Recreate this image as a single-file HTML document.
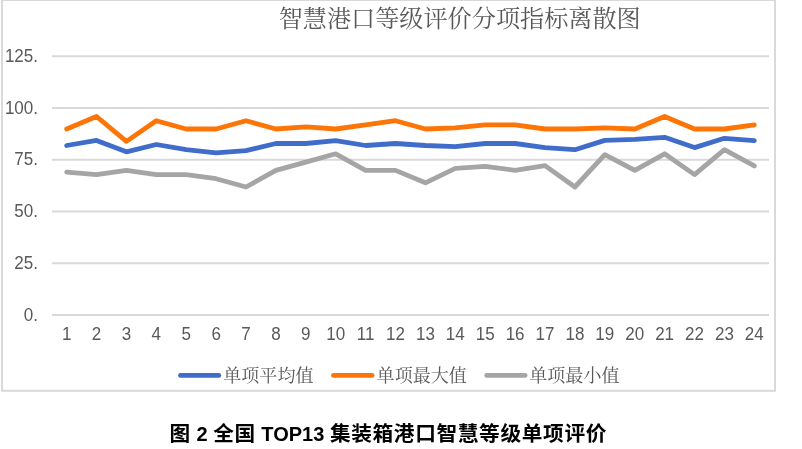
<!DOCTYPE html>
<html lang="zh-CN"><head><meta charset="utf-8"><title>智慧港口等级评价分项指标离散图</title>
<style>
html,body{margin:0;padding:0;background:#fff;}
body{width:802px;height:449px;overflow:hidden;position:relative;}
svg{position:absolute;left:0;top:0;display:block;}
.ax{font-family:"Liberation Sans","Noto Sans CJK SC",sans-serif;font-size:18px;fill:#595959;}
.ttl{font-family:"Liberation Serif","Noto Serif CJK SC",serif;font-size:24.15px;fill:#595959;}
.lg{font-family:"Liberation Serif","Noto Serif CJK SC",serif;font-size:18.05px;fill:#595959;}
.cap{font-family:"Liberation Sans","Noto Sans CJK SC",sans-serif;font-size:20px;font-weight:bold;fill:#000;}
.cap .cj{font-size:20.7px;letter-spacing:0.63px;}
</style></head><body>
<svg width="802" height="449" viewBox="0 0 802 449">
<rect x="0" y="0" width="802" height="449" fill="#fff"/>
<rect x="2" y="0" width="773" height="390.8" fill="#fff" stroke="#d9d9d9" stroke-width="2"/>
<g stroke="#d9d9d9" stroke-width="2"><line x1="52" y1="56.2" x2="769" y2="56.2"/><line x1="52" y1="108.0" x2="769" y2="108.0"/><line x1="52" y1="159.8" x2="769" y2="159.8"/><line x1="52" y1="211.5" x2="769" y2="211.5"/><line x1="52" y1="263.3" x2="769" y2="263.3"/><line x1="52" y1="315.1" x2="769" y2="315.1"/></g>
<g fill="none" stroke-width="4.8" stroke-linecap="round" stroke-linejoin="round">
<polyline stroke="#a5a5a5" points="66.7,172.1 96.5,174.6 126.4,170.4 156.3,174.6 186.2,174.6 216.1,178.7 246.0,187.0 275.9,170.4 305.8,162.1 335.7,153.8 365.6,170.4 395.5,170.4 425.4,182.8 455.3,168.3 485.2,166.3 515.1,170.4 545.0,165.6 574.9,187.0 604.8,154.7 634.8,170.4 664.6,153.8 694.5,174.6 724.4,149.7 754.3,165.9"/>
<polyline stroke="#fd7506" points="66.7,129.0 96.5,116.5 126.4,141.4 156.3,120.7 186.2,129.0 216.1,129.0 246.0,120.7 275.9,129.0 305.8,126.9 335.7,129.0 365.6,124.8 395.5,120.7 425.4,129.0 455.3,127.9 485.2,124.8 515.1,124.8 545.0,129.0 574.9,129.0 604.8,127.9 634.8,129.0 664.6,116.5 694.5,129.0 724.4,129.0 754.3,124.8"/>
<polyline stroke="#406cca" points="66.7,145.5 96.5,140.4 126.4,151.8 156.3,144.5 186.2,149.7 216.1,152.8 246.0,150.7 275.9,143.5 305.8,143.5 335.7,140.6 365.6,145.5 395.5,143.5 425.4,145.5 455.3,146.6 485.2,143.5 515.1,143.5 545.0,147.6 574.9,149.7 604.8,140.4 634.8,139.3 664.6,137.3 694.5,147.6 724.4,138.3 754.3,140.6"/>
</g>
<text class="ttl" x="459.7" y="27" text-anchor="middle">智慧港口等级评价分项指标离散图</text>
<g class="ax"><text transform="translate(38,61.9) scale(0.945,1)" text-anchor="end">125.</text><text transform="translate(38,113.6) scale(0.945,1)" text-anchor="end">100.</text><text transform="translate(38,165.4) scale(0.945,1)" text-anchor="end">75.</text><text transform="translate(38,217.1) scale(0.945,1)" text-anchor="end">50.</text><text transform="translate(38,268.9) scale(0.945,1)" text-anchor="end">25.</text><text transform="translate(38,320.7) scale(0.945,1)" text-anchor="end">0.</text></g>
<g class="ax"><text transform="translate(66.7,340.2) scale(0.945,1)" text-anchor="middle">1</text><text transform="translate(96.5,340.2) scale(0.945,1)" text-anchor="middle">2</text><text transform="translate(126.4,340.2) scale(0.945,1)" text-anchor="middle">3</text><text transform="translate(156.3,340.2) scale(0.945,1)" text-anchor="middle">4</text><text transform="translate(186.2,340.2) scale(0.945,1)" text-anchor="middle">5</text><text transform="translate(216.1,340.2) scale(0.945,1)" text-anchor="middle">6</text><text transform="translate(246.0,340.2) scale(0.945,1)" text-anchor="middle">7</text><text transform="translate(275.9,340.2) scale(0.945,1)" text-anchor="middle">8</text><text transform="translate(305.8,340.2) scale(0.945,1)" text-anchor="middle">9</text><text transform="translate(335.7,340.2) scale(0.945,1)" text-anchor="middle">10</text><text transform="translate(365.6,340.2) scale(0.945,1)" text-anchor="middle">11</text><text transform="translate(395.5,340.2) scale(0.945,1)" text-anchor="middle">12</text><text transform="translate(425.4,340.2) scale(0.945,1)" text-anchor="middle">13</text><text transform="translate(455.3,340.2) scale(0.945,1)" text-anchor="middle">14</text><text transform="translate(485.2,340.2) scale(0.945,1)" text-anchor="middle">15</text><text transform="translate(515.1,340.2) scale(0.945,1)" text-anchor="middle">16</text><text transform="translate(545.0,340.2) scale(0.945,1)" text-anchor="middle">17</text><text transform="translate(574.9,340.2) scale(0.945,1)" text-anchor="middle">18</text><text transform="translate(604.8,340.2) scale(0.945,1)" text-anchor="middle">19</text><text transform="translate(634.8,340.2) scale(0.945,1)" text-anchor="middle">20</text><text transform="translate(664.6,340.2) scale(0.945,1)" text-anchor="middle">21</text><text transform="translate(694.5,340.2) scale(0.945,1)" text-anchor="middle">22</text><text transform="translate(724.4,340.2) scale(0.945,1)" text-anchor="middle">23</text><text transform="translate(754.3,340.2) scale(0.945,1)" text-anchor="middle">24</text></g>
<g stroke-width="4.8" stroke-linecap="round">
<line x1="180.5" y1="375.4" x2="218.8" y2="375.4" stroke="#406cca"/>
<line x1="333.5" y1="375.4" x2="372.1" y2="375.4" stroke="#fd7506"/>
<line x1="486.7" y1="375.4" x2="525.1" y2="375.4" stroke="#a5a5a5"/>
</g>
<g class="lg">
<text x="223.3" y="382">单项平均值</text>
<text x="376.6" y="382">单项最大值</text>
<text x="529.3" y="382">单项最小值</text>
</g>
<text class="cap" x="388.3" y="440.7" text-anchor="middle"><tspan class="cj">图</tspan> 2 <tspan class="cj">全国</tspan> TOP13 <tspan class="cj">集装箱港口智慧等级单项评价</tspan></text>
</svg>
</body></html>
